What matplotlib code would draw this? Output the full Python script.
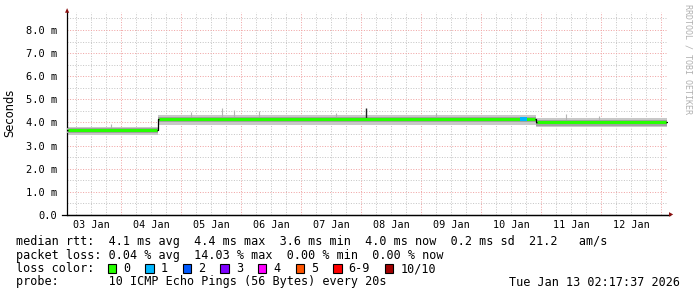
import matplotlib
matplotlib.use('Agg')
import matplotlib.pyplot as plt
from matplotlib.lines import Line2D
from matplotlib.patches import Rectangle

MONO = 'DejaVu Sans Mono'

# time axis: hours since 03 Jan 00:00
t_start = 2.29
t_end = 242.29
day_labels = ['03 Jan', '04 Jan', '05 Jan', '06 Jan', '07 Jan',
              '08 Jan', '09 Jan', '10 Jan', '11 Jan', '12 Jan']

# rtt segments (ms)
seg_start = [2.29, 38.6, 189.7]
seg_end = [38.6, 189.7, 242.29]
median = [3.69, 4.16, 4.01]
outer_lo = [3.47, 3.91, 3.79]
outer_hi = [3.82, 4.31, 4.20]
inner_lo = [3.55, 4.01, 3.87]
inner_hi = [3.76, 4.25, 4.11]
dark_lo = [3.61, 4.07, 3.93]

# occasional smoke hairlines
spike_t = [20.0, 52.0, 64.4, 69.0, 79.0, 110.0, 150.0, 202.0, 215.0]
spike_top = [3.92, 4.45, 4.63, 4.52, 4.50, 4.42, 4.40, 4.37, 4.30]

# median spike
mspike_t = 121.7
mspike_top = 4.63

# samples with 1/10 loss
loss_t = [184.4, 185.3]
loss_v = [4.16, 4.16]

loss_labels = ['0', '1', '2', '3', '4', '5', '6-9', '10/10']
loss_colors = ['#26ff00', '#00b8ff', '#0059ff', '#7e00ff',
               '#ff00ff', '#ff5500', '#ff0000', '#a00000']

stats_line = 'median rtt:  4.1 ms avg  4.4 ms max  3.6 ms min  4.0 ms now  0.2 ms sd  21.2   am/s'
loss_line = 'packet loss: 0.04 % avg  14.03 % max  0.00 % min  0.00 % now'
probe_line = 'probe:       10 ICMP Echo Pings (56 Bytes) every 20s'
stamp = 'Tue Jan 13 02:17:37 2026'

W, H = 697, 297
fig = plt.figure(figsize=(W / 100, H / 100), dpi=100)
fig.patch.set_facecolor('white')
ax = fig.add_axes([67 / W, (H - 215) / H, 601 / W, 203 / H])
ax.set_xlim(t_start, t_start + 601 / 60 * 24)
ax.set_ylim(0, 203 / 23.125)

# grid
ax.set_axisbelow(True)
ax.set_xticks([24 * d for d in range(1, 11)])
ax.set_xticks([6 * k for k in range(1, 41)], minor=True)
ax.set_yticks(range(0, 9))
ax.set_yticks([0.5 * k for k in range(1, 18)], minor=True)
ax.grid(which='major', color='#f0a4a4', linestyle=(0, (1, 1.6)), linewidth=0.72)
ax.grid(which='minor', color='#c6c6c6', linestyle=(0, (1, 1.6)), linewidth=0.72)
ax.tick_params(which='both', length=0)
ax.set_xticklabels([])
ax.set_yticklabels(['0.0'] + ['%.1f m' % v for v in range(1, 9)],
                   fontfamily=MONO, fontsize=7.5)
ax.tick_params(axis='y', pad=7)
for i, lab in enumerate(day_labels):
    ax.text(12 + 24 * i, -0.22, lab, ha='center', va='top', fontfamily=MONO,
            fontsize=7.3, transform=ax.transData, clip_on=False)

for s in ['top', 'right']:
    ax.spines[s].set_visible(False)
ax.spines['left'].set_linewidth(0.9)
ax.spines['bottom'].set_linewidth(0.9)

# smoke
for i in range(len(seg_start)):
    x = [seg_start[i], seg_end[i]]
    ax.fill_between(x, outer_lo[i], outer_hi[i], color='#c8c8c8', lw=0, zorder=2)
    ax.fill_between(x, inner_lo[i], inner_hi[i], color='#a2a2a2', lw=0, zorder=3)
    ax.fill_between(x, dark_lo[i], median[i], color='#727272', lw=0, zorder=3)
for t, top in zip(spike_t, spike_top):
    base = median[0] if t < seg_end[0] else median[1] if t < seg_end[1] else median[2]
    ax.vlines(t, base, top, color='#b4b4b4', lw=0.8, zorder=2)

# median (steps in black, level in green)
xs, ys = [], []
for i in range(len(seg_start)):
    xs += [seg_start[i], seg_end[i]]
    ys += [median[i], median[i]]
ax.plot(xs, ys, color='black', lw=0.9, zorder=4)
ax.vlines(mspike_t, median[1], mspike_top, color='#222222', lw=1.0, zorder=5)
for i in range(len(seg_start)):
    ax.hlines(median[i], seg_start[i] + 0.4, seg_end[i] - 0.4, color=loss_colors[0], lw=2.2, zorder=5)
ax.plot(loss_t, loss_v, 's', color=loss_colors[1], ms=2.4, mew=0, zorder=6)

# axis arrows
arrow_c = '#8b1010'
fig.add_artist(Line2D([62 / W, 670 / W], [(H - 215) / H] * 2, color='black', lw=0.9))
fig.text(67.3 / W, (H - 11) / H, '\u25b2', color=arrow_c, fontsize=4, ha='center', va='center')
fig.text(671 / W, (H - 215) / H, '\u25b6', color=arrow_c, fontsize=4, ha='center', va='center')

# labels
fig.text(10 / W, (H - 113) / H, 'Seconds', rotation=90, ha='center', va='center', fontsize=8.3)
fig.text(688 / W, (H - 4) / H, 'RRDTOOL / TOBI OETIKER', rotation=270, ha='center', va='top',
         fontfamily=MONO, fontsize=6, color='#b0b0b0')

# legend rows
FS = 8.5
fig.text(16 / W, (H - 241) / H, stats_line, fontfamily=MONO, fontsize=FS, va='center')
fig.text(16 / W, (H - 255) / H, loss_line, fontfamily=MONO, fontsize=FS, va='center')
fig.text(16 / W, (H - 268.5) / H, 'loss color:', fontfamily=MONO, fontsize=FS, va='center')
fig.text(16 / W, (H - 282) / H, probe_line, fontfamily=MONO, fontsize=FS, va='center')
fig.text(680 / W, (H - 282) / H, stamp, fontfamily=MONO, fontsize=FS, va='center', ha='right')

bx = 107.5
for lab, col in zip(loss_labels, loss_colors):
    fig.add_artist(Rectangle((bx / W, (H - 272.5) / H), 8.5 / W, 8.5 / H,
                             facecolor=col, edgecolor='black', lw=0.8))
    fig.text((bx + 15.5) / W, (H - 268.5) / H, lab, fontfamily=MONO, fontsize=FS, va='center')
    bx += 15.5 + len(lab) * 7.1 + 15

plt.savefig('out.png', dpi=100)
